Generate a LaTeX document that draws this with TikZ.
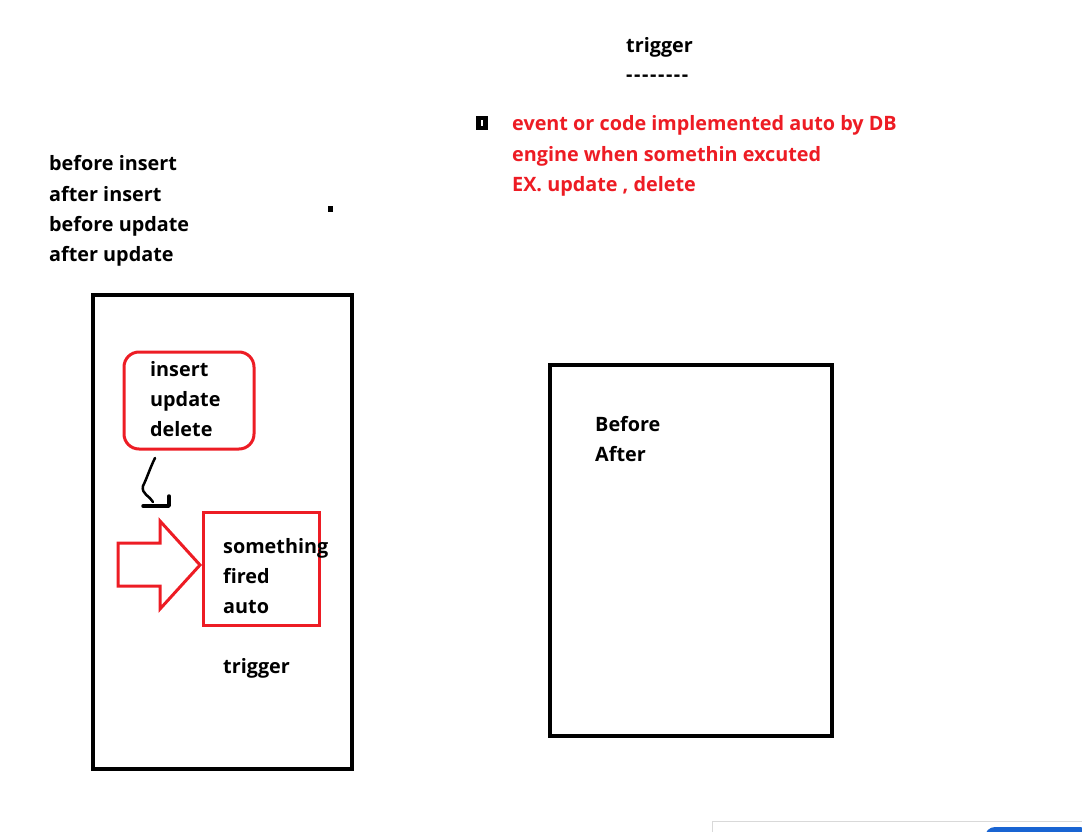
\documentclass[tikz,border=0pt]{standalone}
\usepackage{fontspec}
\setmainfont[Ligatures=NoCommon]{Open Sans}
\definecolor{myred}{RGB}{237,28,36}
\definecolor{myblue}{RGB}{25,100,210}
\begin{document}
\begin{tikzpicture}[x=1pt,y=-1pt,
  txt/.style={anchor=base west,inner sep=0pt,font=\fontsize{19.8}{30}\selectfont\bfseries},
  redtxt/.style={txt,text=myred},
  frame/.style={draw=black,line width=4pt},
  redframe/.style={draw=myred,line width=3pt}]
\useasboundingbox (0,0) rectangle (1082,832);
% top texts
\node[txt] (t1) at (626,53) {trigger};
\node[txt] (t2) at (626,82) {\addfontfeature{LetterSpace=8}{-}{-}{-}{-}{-}{-}{-}{-}};
\fill (476,116) rectangle (488,130);
\fill[white] (481,120) rectangle (483,126);
\node[redtxt] (r1) at (512,131) {event or code implemented auto by DB};
\node[redtxt] (r2) at (512,161) {engine when somethin excuted};
\node[redtxt] (r3) at (512,191) {EX. update , delete};
% left texts
\node[txt] (b1) at (49,171) {before insert};
\node[txt] (b2) at (49,201) {after insert};
\node[txt] (b3) at (49,231) {before update};
\node[txt] (b4) at (49,261) {after update};
\fill (328,206) rectangle (333,212);
% left big box
\draw[frame] (93,295) rectangle (352,769);
\draw[redframe,rounded corners=15pt] (124,352) rectangle (254,449);
\node[txt] (i1) at (150,376) {insert};
\node[txt] (i2) at (150,406) {update};
\node[txt] (i3) at (150,436) {delete};
% squiggle
\draw[line width=2.5pt,line cap=round,line join=round]
  (155,458) .. controls (150,468) and (147,478) .. (143,486)
  .. controls (141,494) and (150,496) .. (153,502);
\draw[line width=3.5pt,line cap=round,line join=round]
  (143,506) -- (169,506) -- (169,496);
% arrow
\draw[redframe,line join=miter] (118,543) -- (160,543) -- (160,521) -- (200,565)
  -- (160,609) -- (160,586) -- (118,586) -- cycle;
\draw[redframe] (203,512) rectangle (319,625);
\node[txt] (s1) at (223,553) {something};
\node[txt] (s2) at (223,583) {fired};
\node[txt] (s3) at (223,613) {auto};
\node[txt] (s4) at (223,673) {trigger};
% right box
\draw[frame] (550,365) rectangle (832,736);
\node[txt] (a1) at (595,431) {Before};
\node[txt] (a2) at (595,461) {After};
% bottom-right artifacts
\draw[gray!30,line width=0.8pt] (712.5,840) -- (712.5,821.5) -- (1090,821.5);
\fill[myblue,rounded corners=10pt] (985,827) rectangle (1090,850);
\end{tikzpicture}
\end{document}
